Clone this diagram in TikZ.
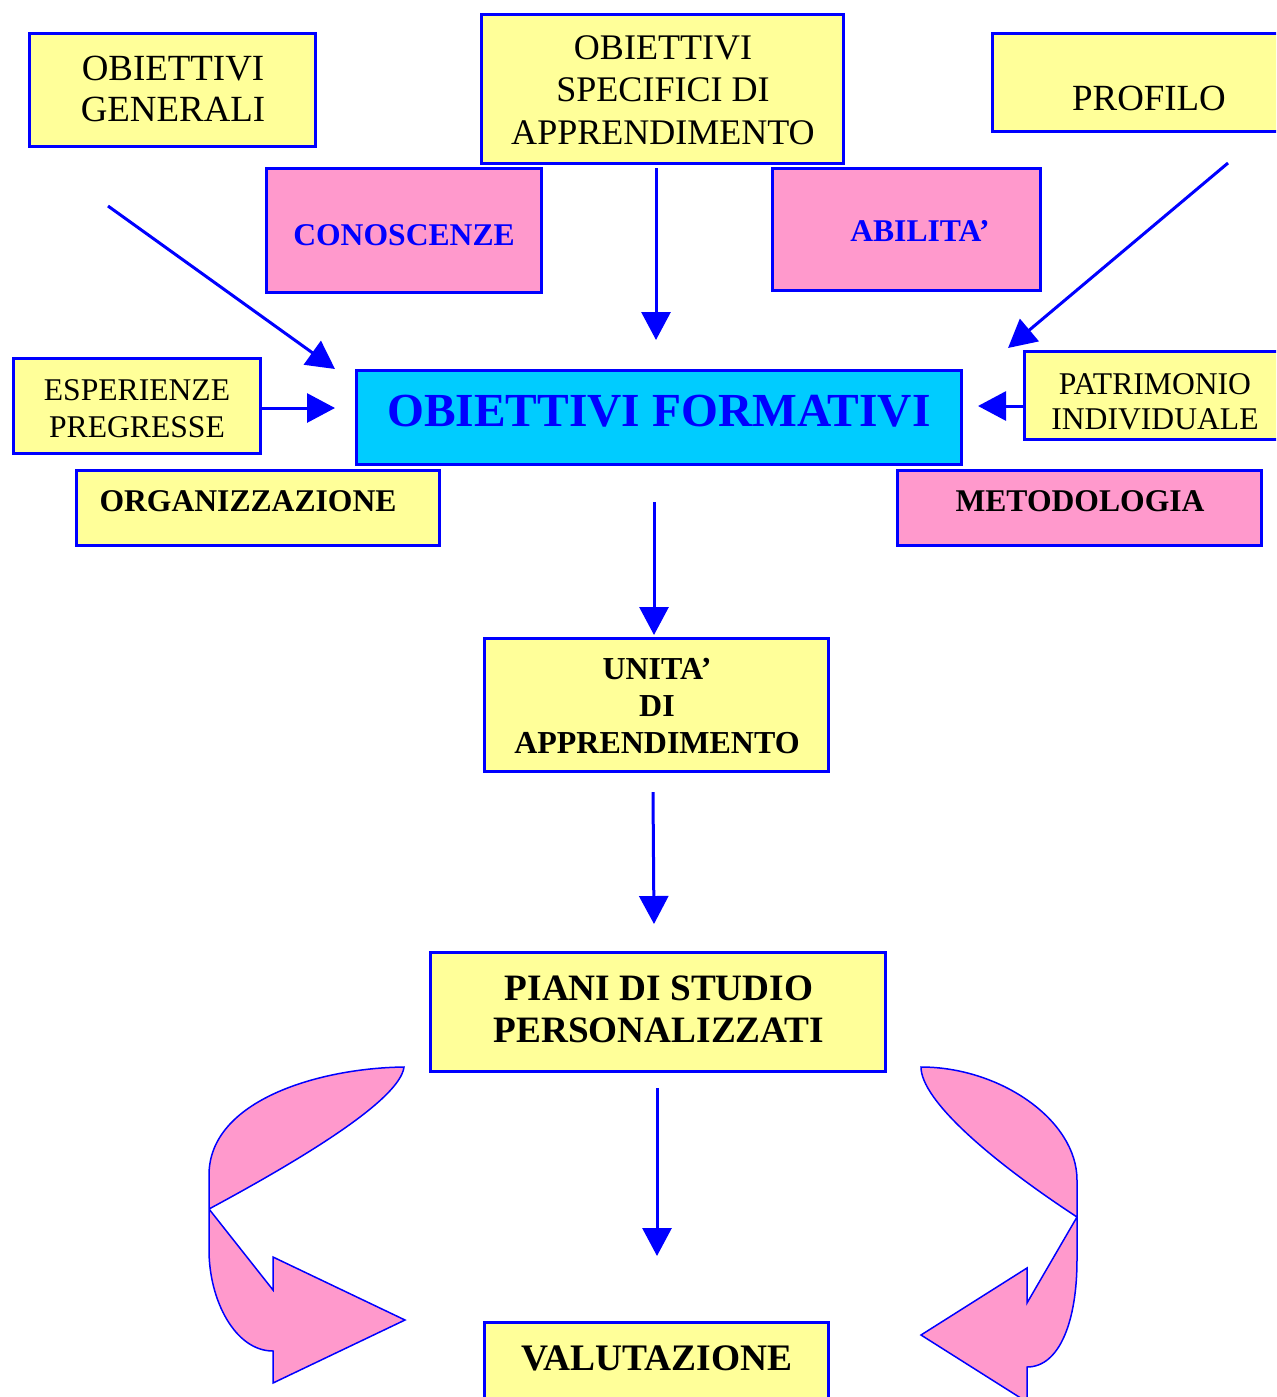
\documentclass[tikz,border=0pt]{standalone}
\usepackage{fontspec}
\setmainfont{Liberation Serif}
\usetikzlibrary{arrows.meta}
\definecolor{yel}{HTML}{FFFF99}
\definecolor{pnk}{HTML}{FF99CC}
\definecolor{cyn}{HTML}{00CCFF}
\definecolor{blu}{HTML}{0000FF}
\begin{document}
\begin{tikzpicture}[x=0.02cm,y=-0.02cm,
  box/.style={draw=blu, line width=0.06cm, inner sep=0pt, outer sep=0pt, anchor=north west},
  ybox/.style={box, fill=yel},
  pbox/.style={box, fill=pnk},
  cbox/.style={box, fill=cyn},
  txt/.style={inner sep=0pt, align=center},
  arr/.style={draw=blu, line width=0.06cm, -{Triangle[length=0.56cm,width=0.58cm]}},
  pinkarrow/.style={draw=blu, fill=pnk, line width=0.03cm, line join=miter}]
\useasboundingbox (0,0) rectangle (1276,1397);
\begin{scope}
\clip (0,0) rectangle (1276,1397);
% boxes
\node[ybox, minimum width=5.72cm, minimum height=2.26cm] (gen) at (29.5,33.5) {};
\node[ybox, minimum width=7.24cm, minimum height=2.98cm] (spec) at (481.5,14.5) {};
\node[ybox, minimum width=5.95cm, minimum height=1.96cm] (prof) at (992.5,33.5) {};
\node[pbox, minimum width=5.5cm, minimum height=2.48cm] (con) at (266.5,168.5) {};
\node[pbox, minimum width=5.36cm, minimum height=2.44cm] (abi) at (772.5,168.5) {};
\node[cbox, minimum width=12.1cm, minimum height=1.88cm] (form) at (356.5,370.5) {};
\node[ybox, minimum width=4.94cm, minimum height=1.9cm] (esp) at (13.5,358.5) {};
\node[ybox, minimum width=5.31cm, minimum height=1.76cm] (pat) at (1024.5,351.5) {};
\node[ybox, minimum width=7.26cm, minimum height=1.5cm] (org) at (76.5,470.5) {};
\node[pbox, minimum width=7.28cm, minimum height=1.5cm] (met) at (897.5,470.5) {};
\node[ybox, minimum width=6.88cm, minimum height=2.66cm] (uni) at (484.5,638.5) {};
\node[ybox, minimum width=9.1cm, minimum height=2.38cm] (pia) at (430.5,952.5) {};
\node[ybox, minimum width=6.88cm, minimum height=1.75cm] (val) at (484.5,1322.5) {};
% texts
\node[txt, font=\fontsize{21}{23.8}\selectfont] (gen-t) at (173,89) {OBIETTIVI\\GENERALI};
\node[txt, font=\fontsize{20.5}{24.1}\selectfont] (spec-t) at (663,90) {OBIETTIVI\\SPECIFICI DI\\APPRENDIMENTO};
\node[txt, font=\fontsize{21}{24}\selectfont] (prof-t) at (1149,98) {PROFILO};
\node[txt, font=\fontsize{18}{21}\selectfont\bfseries, text=blu] (con-t) at (404,235) {CONOSCENZE};
\node[txt, font=\fontsize{18}{21}\selectfont\bfseries, text=blu] (abi-t) at (920,231) {ABILITA’};
\node[txt, font=\fontsize{27}{30}\selectfont\bfseries, text=blu] (form-t) at (659,411) {OBIETTIVI FORMATIVI};
\node[txt, font=\fontsize{18}{21}\selectfont] (esp-t) at (137,409) {ESPERIENZE\\PREGRESSE};
\begin{scope}
\clip (1026,353) rectangle (1290,431);
\node[txt, font=\fontsize{18}{19.9}\selectfont] (pat-t) at (1155,402) {PATRIMONIO\\INDIVIDUALE};
\end{scope}
\node[txt, font=\fontsize{18}{21}\selectfont\bfseries] (org-t) at (248,501) {ORGANIZZAZIONE};
\node[txt, font=\fontsize{18}{21}\selectfont\bfseries] (met-t) at (1080,501) {METODOLOGIA};
\node[txt, font=\fontsize{18.2}{21}\selectfont\bfseries] (uni-t) at (657,706) {UNITA’\\DI\\APPRENDIMENTO};
\node[txt, font=\fontsize{21.2}{23.8}\selectfont\bfseries] (pia-t) at (659,1009) {PIANI DI STUDIO\\PERSONALIZZATI};
\node[txt, font=\fontsize{21.3}{24}\selectfont\bfseries] (val-t) at (657,1358) {VALUTAZIONE};
% arrow end points
\coordinate (a1s) at (108,206);
\coordinate (a1e) at (335,369);
\coordinate (a2s) at (656,168);
\coordinate (a2e) at (656,340);
\coordinate (a3s) at (1228,163);
\coordinate (a3e) at (1008,348);
\coordinate (a4e) at (335,408);
\coordinate (a5e) at (978,406);
\coordinate (a6s) at (654,502);
\coordinate (a6e) at (654,635);
\coordinate (a7s) at (653,792);
\coordinate (a7e) at (654,924);
\coordinate (a8s) at (657,1088);
\coordinate (a8e) at (657,1256);
\draw[arr] (a1s) -- (a1e);
\draw[arr] (a2s) -- (a2e);
\draw[arr] (a3s) -- (a3e);
\draw[arr] (esp.east |- a4e) -- (a4e);
\draw[arr] (pat.west |- a5e) -- (a5e);
\draw[arr] (a6s) -- (a6e);
\draw[arr] (a7s) -- (a7e);
\draw[arr] (a8s) -- (a8e);
% pink curved arrows
\draw[pinkarrow] (209,1209) -- (209,1175)
  .. controls (209,1100) and (320,1068) .. (404,1067)
  .. controls (400,1100) and (300,1160) .. (209,1209)
  -- (209,1250) .. controls (209,1300) and (235,1351) .. (273,1351)
  -- (273,1383) -- (405,1320) -- (273,1257) -- (273,1290) -- cycle;
\draw[pinkarrow] (1077,1217) -- (1077,1180)
  .. controls (1077,1120) and (1000,1067) .. (921,1067)
  .. controls (921,1100) and (990,1160) .. (1077,1217)
  -- (1077,1260) .. controls (1077,1320) and (1060,1367) .. (1027,1367)
  -- (1027,1402) -- (921,1335) -- (1027,1268) -- (1027,1303) -- cycle;
\end{scope}
\end{tikzpicture}
\end{document}
